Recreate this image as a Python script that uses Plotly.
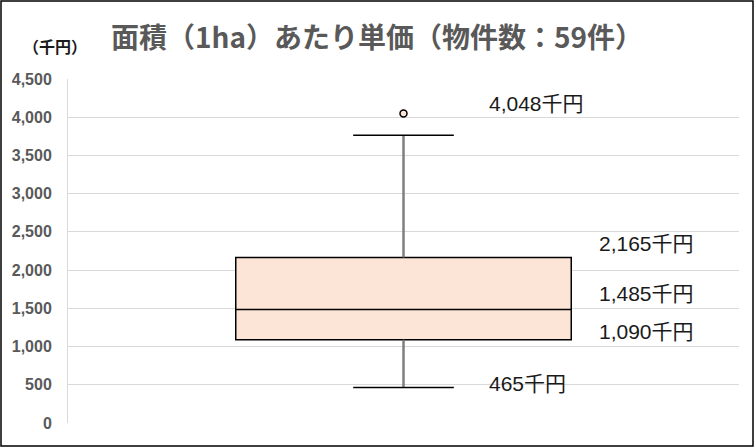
import plotly.graph_objects as go

# ---- data ----
category = ["物件"]
q1 = [1090]
median = [1485]
q3 = [2165]
lower_fence = [465]
upper_fence = [3765]
outliers = [4048]
label_values = [4048, 2165, 1485, 1090, 465]
label_texts = ["4,048千円", "2,165千円", "1,485千円", "1,090千円", "465千円"]
tick_values = [0, 500, 1000, 1500, 2000, 2500, 3000, 3500, 4000, 4500]

# ---- label placement (styles) ----
label_x = [0.624, 0.788, 0.788, 0.788, 0.624]
label_yshift = [10, 14, 16, 8, 4]

FILL = "#FCE4D6"
GRAY = "#595959"
xpos = [0]

fig = go.Figure()
fig.add_trace(go.Box(
    x=xpos, q1=q1, median=median, q3=q3,
    lowerfence=lower_fence, upperfence=upper_fence,
    width=0.5, whiskerwidth=0.3,
    fillcolor=FILL, line=dict(color="black", width=1.5),
    boxpoints=False, hoverinfo="skip", showlegend=False,
))
# gray vertical whisker stems
fig.add_trace(go.Scatter(x=[xpos[0], xpos[0]], y=[q3[0], upper_fence[0] - 10], mode="lines",
                         line=dict(color="#7f7f7f", width=2), hoverinfo="skip", showlegend=False))
fig.add_trace(go.Scatter(x=[xpos[0], xpos[0]], y=[lower_fence[0] + 10, q1[0]], mode="lines",
                         line=dict(color="#7f7f7f", width=2), hoverinfo="skip", showlegend=False))
# outlier
fig.add_trace(go.Scatter(x=[xpos[0]] * len(outliers), y=outliers, mode="markers",
                         marker=dict(symbol="circle", size=7, color=FILL,
                                     line=dict(color="black", width=1.5)),
                         hoverinfo="skip", showlegend=False))

for v, t, lx, ys in zip(label_values, label_texts, label_x, label_yshift):
    fig.add_annotation(x=lx, xref="paper", y=v, yref="y", text=t, showarrow=False,
                       xanchor="left", yanchor="middle", yshift=ys,
                       font=dict(family="Liberation Sans, Noto Sans CJK JP", size=21, color="#1a1a1a"))

fig.add_annotation(x=(55 - 68) / 671, xref="paper", y=(423 - 46) / 344, yref="paper",
                   text="（千円）", showarrow=False, xanchor="center", yanchor="middle",
                   font=dict(family="Noto Sans CJK JP", size=16, color="#1a1a1a", weight="bold"))

# outer frame
fig.add_shape(type="rect", xref="paper", yref="paper",
              x0=(1 - 68) / 671, x1=(753 - 68) / 671,
              y0=(423 - 446) / 344, y1=(423 - 1) / 344,
              line=dict(color="black", width=1.5), fillcolor="rgba(0,0,0,0)")

fig.update_layout(
    width=754, height=447,
    margin=dict(l=68, r=15, t=79, b=24),
    paper_bgcolor="white", plot_bgcolor="white",
    title=dict(text="面積（1ha）あたり単価（物件数：59件）",
               x=377 / 754, xanchor="center", y=1 - 38 / 447, yanchor="middle",
               font=dict(family="Noto Sans CJK JP", size=28, color=GRAY, weight="bold")),
    xaxis=dict(range=[-0.5, 0.5], showticklabels=False, showgrid=False, zeroline=False,
               showline=False, fixedrange=True),
    yaxis=dict(range=[0, 4500], tickvals=tick_values, tickformat=",",
               showgrid=True, gridcolor="#d9d9d9", gridwidth=1, zeroline=False,
               showline=True, linecolor="#d9d9d9", linewidth=1,
               ticks="", ticklabelstandoff=12,
               tickfont=dict(family="Liberation Sans", size=16, color=GRAY, weight="bold")),
)

fig.write_html("out.html", config={"displayModeBar": False},
               post_script="document.body.style.margin='0';document.body.style.overflow='hidden';")
